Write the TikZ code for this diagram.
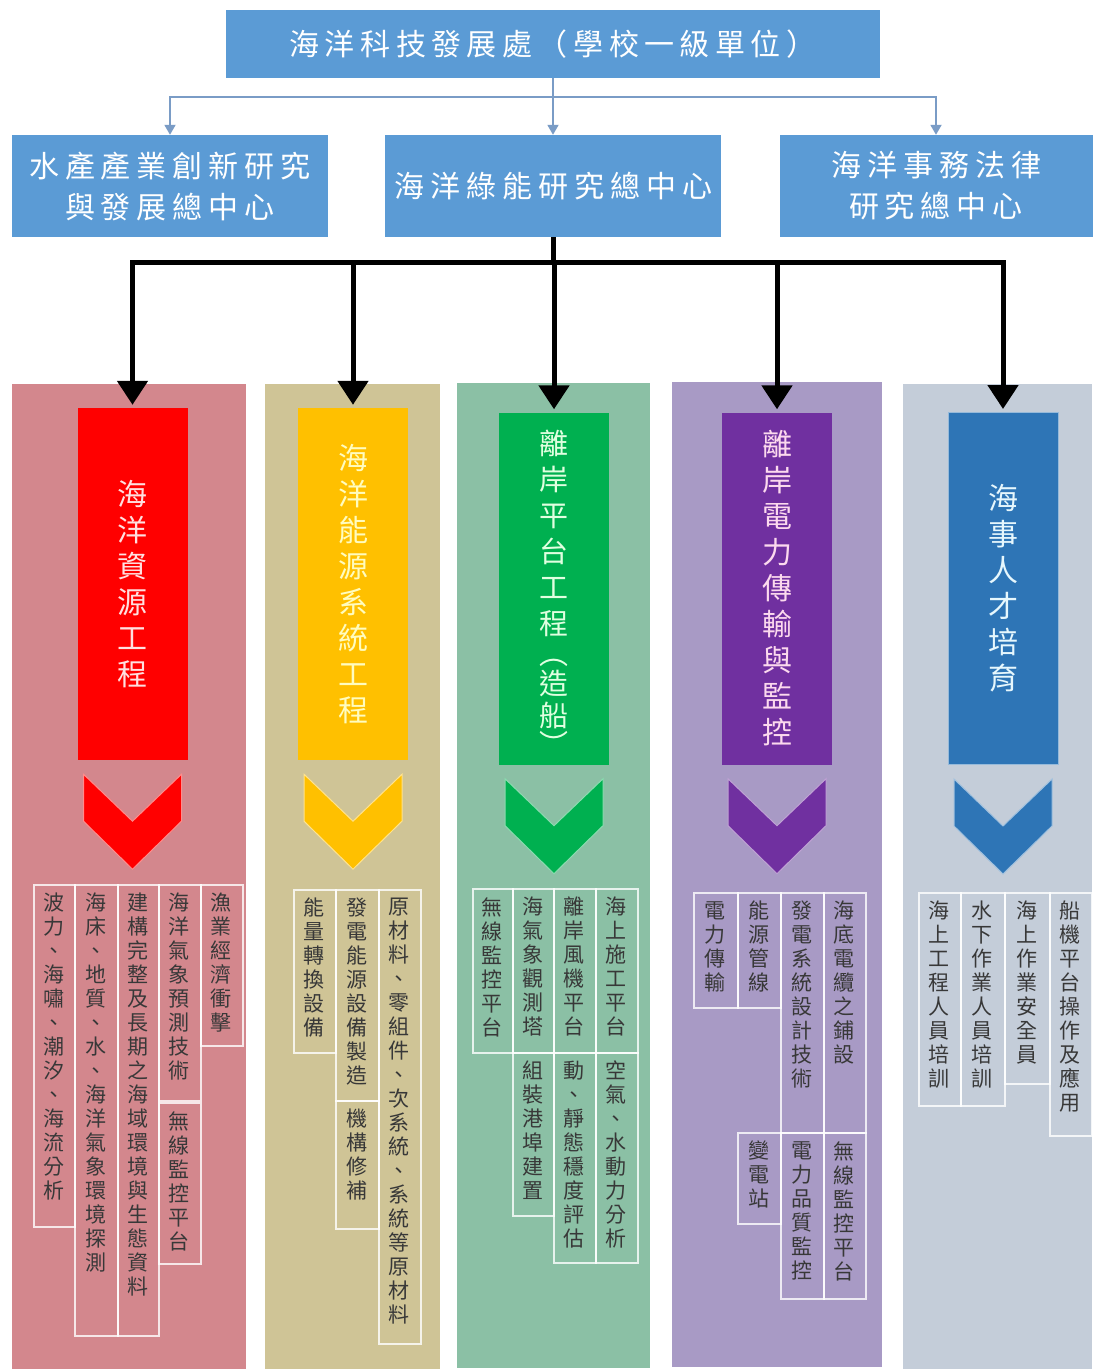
\documentclass[tikz,border=0pt]{standalone}
\usepackage{fontspec}
\setmainfont{Noto Sans CJK TC}
\usetikzlibrary{arrows.meta,calc}
\makeatletter
\def\vstk#1{\vstk@#1\@nil}
\def\vstk@#1#2\@nil{#1\ifx\relax#2\relax\expandafter\@gobble\else\expandafter\@firstofone\fi{\\\vstk@#2\@nil}}
\newdimen\lsgap \lsgap=6pt
\def\lsp#1{\lsp@#1\@nil}
\def\lsp@#1#2\@nil{#1\ifx\relax#2\relax\expandafter\@gobble\else\expandafter\@firstofone\fi{\hspace{\lsgap}\lsp@#2\@nil}}
\makeatother
\definecolor{hdr}{HTML}{5B9BD5}
\definecolor{conn}{HTML}{7A9CC6}
\definecolor{bgA}{HTML}{D3878D}
\definecolor{bgB}{HTML}{CFC496}
\definecolor{bgC}{HTML}{8BC0A5}
\definecolor{bgD}{HTML}{A89AC5}
\definecolor{bgE}{HTML}{C4CDD9}
\definecolor{cA}{HTML}{FF0000}
\definecolor{cB}{HTML}{FFC000}
\definecolor{cC}{HTML}{00B050}
\definecolor{cD}{HTML}{7030A0}
\definecolor{cE}{HTML}{2E75B6}
\newcommand\tbox[6]{%
  \node[tb, minimum width={#4-#2}, minimum height={#5-#3}] (#1b) at (#2,#3) {};
  \node[tt] (#1) at ({(#2+#4)/2},{#3+9}) {\vstk{#6}};}
\newcommand\chev[2]{%
  \filldraw[fill=#2, draw=#2!45!white, line width=1pt] ($(#1.south)+(-49,14)$) -- ++(49,47) -- ++(49,-47) -- ++(0,47) -- ++(-49,48) -- ++(-49,-48) -- cycle;}
\begin{document}
\begin{tikzpicture}[x=1pt,y=-1pt,
  hdrbox/.style={fill=hdr, text=white, align=center, inner sep=0pt, font=\fontsize{30}{41}\selectfont},
  thinline/.style={draw=conn, line width=1.8pt},
  thinarr/.style={draw=conn, line width=1.8pt, -{Triangle[width=11pt,length=10pt]}},
  blk/.style={draw=black, line width=5pt},
  blkarr/.style={draw=black, line width=5pt, -{Triangle[width=30pt,length=24pt]}, shorten >=3pt},
  colbg/.style={inner sep=0pt, anchor=north west, minimum height=985pt},
  cbox/.style={minimum width=110pt, minimum height=352pt, align=center, inner sep=0pt, font=\fontsize{30}{36}\selectfont},
  tb/.style={draw=white, draw opacity=0.8, line width=1.6pt, inner sep=0pt, anchor=north west},
  tt/.style={anchor=north, align=center, inner sep=0pt, text=black!78, font=\fontsize{21}{24}\selectfont}
]
\useasboundingbox[fill=white] (0,0) rectangle (1094,1369);

% header
\node[hdrbox, minimum width=654pt, minimum height=68pt] (top) at (553,44) {\lsgap=5.5pt\lsp{海洋科技發展處（學校一級單位）}};
\node[hdrbox, minimum width=316pt, minimum height=102pt] (s1) at (170,186) {\lsp{水產產業創新研究}\\\lsp{與發展總中心}};
\node[hdrbox, minimum width=336pt, minimum height=102pt] (s2) at (553,186) {\lsp{海洋綠能研究總中心}};
\node[hdrbox, minimum width=313pt, minimum height=102pt] (s3) at (936,186) {\lsp{海洋事務法律}\\\lsp{研究總中心}};

\coordinate (t) at (553,97);
\draw[thinline] (top.south) -- (t);
\draw[thinarr] (t) -| (s1.north);
\draw[thinarr] (t) -- (s2.north);
\draw[thinarr] (t) -| (s3.north);

% column backgrounds
\node[colbg, fill=bgA, minimum width=234pt] (bg1) at (12,384) {};
\node[colbg, fill=bgB, minimum width=175pt] (bg2) at (265,384) {};
\node[colbg, fill=bgC, minimum width=193pt] (bg3) at (457,383) {};
\node[colbg, fill=bgD, minimum width=210pt] (bg4) at (672,382) {};
\node[colbg, fill=bgE, minimum width=189pt] (bg5) at (903,384) {};

% coloured boxes
\node[cbox, fill=cA, text=red!12!white] (r1) at (132.5,584) {\vstk{海洋資源工程}};
\node[cbox, fill=cB, text=yellow!25!white] (r2) at (353,584) {\vstk{海洋能源系統工程}};
\node[cbox, fill=cC] (r3) at (554,588.5) {};
\node[align=center, inner sep=0pt, text=green!12!white, font=\fontsize{29}{36}\selectfont] (r3t) at (554,593) {離\\岸\\平\\台\\工\\程\\[-6pt]︵\\[-6pt]造\\[-4pt]船\\[-7pt]︶};
\node[cbox, fill=cD, text=magenta!15!white] (r4) at (777,588.5) {\vstk{離岸電力傳輸與監控}};
\node[cbox, fill=cE, draw=cE!50!white, line width=1pt, text=cyan!10!white] (r5) at (1003,588.5) {\vstk{海事人才培育}};

\chev{r1}{cA}
\chev{r2}{cB}
\chev{r3}{cC}
\chev{r4}{cD}
\chev{r5}{cE}

% black connectors
\coordinate (j) at (553,262);
\draw[blk] (s2.south) -- (j);
\foreach \r in {r1,r2,r3,r4,r5}{\draw[blkarr] (j) -| (\r.north);}

% column 1
\tbox{a1}{33}{884}{74}{1226}{波力、海嘯、潮汐、海流分析}
\tbox{a2}{74}{884}{117}{1335}{海床、地質、水、海洋氣象環境探測}
\tbox{a3}{117}{884}{158}{1335}{建構完整及長期之海域環境與生態資料}
\tbox{a4}{158}{884}{200}{1100}{海洋氣象預測技術}
\tbox{a5}{200}{884}{242}{1045}{漁業經濟衝擊}
\tbox{a6}{158}{1102}{200}{1263}{無線監控平台}
% column 2
\tbox{b1}{293}{889}{335}{1052}{能量轉換設備}
\tbox{b2}{335}{889}{378}{1100}{發電能源設備製造}
\tbox{b3}{335}{1100}{378}{1228}{機構修補}
\tbox{b4}{378}{889}{420}{1343}{原材料、零組件、次系統、系統等原材料}
% column 3
\tbox{c1}{472}{888}{512}{1052}{無線監控平台}
\tbox{c2}{512}{888}{553}{1052}{海氣象觀測塔}
\tbox{c3}{553}{888}{595}{1052}{離岸風機平台}
\tbox{c4}{595}{888}{637}{1052}{海上施工平台}
\tbox{c5}{512}{1052}{553}{1215}{組裝港埠建置}
\tbox{c6}{553}{1052}{595}{1262}{動、靜態穩度評估}
\tbox{c7}{595}{1052}{637}{1262}{空氣、水動力分析}
% column 4
\tbox{d1}{693}{892}{737}{1007}{電力傳輸}
\tbox{d2}{737}{892}{780}{1007}{能源管線}
\tbox{d3}{780}{892}{823}{1132}{發電系統設計技術}
\tbox{d4}{823}{892}{865}{1132}{海底電纜之鋪設}
\tbox{d5}{737}{1132}{780}{1223}{變電站}
\tbox{d6}{780}{1132}{823}{1298}{電力品質監控}
\tbox{d7}{823}{1132}{865}{1298}{無線監控平台}
% column 5
\tbox{e1}{918}{892}{960}{1105}{海上工程人員培訓}
\tbox{e2}{960}{892}{1004}{1105}{水下作業人員培訓}
\tbox{e3}{1004}{892}{1049}{1083}{海上作業安全員}
\tbox{e4}{1049}{892}{1091}{1135}{船機平台操作及應用}
\end{tikzpicture}
\end{document}
